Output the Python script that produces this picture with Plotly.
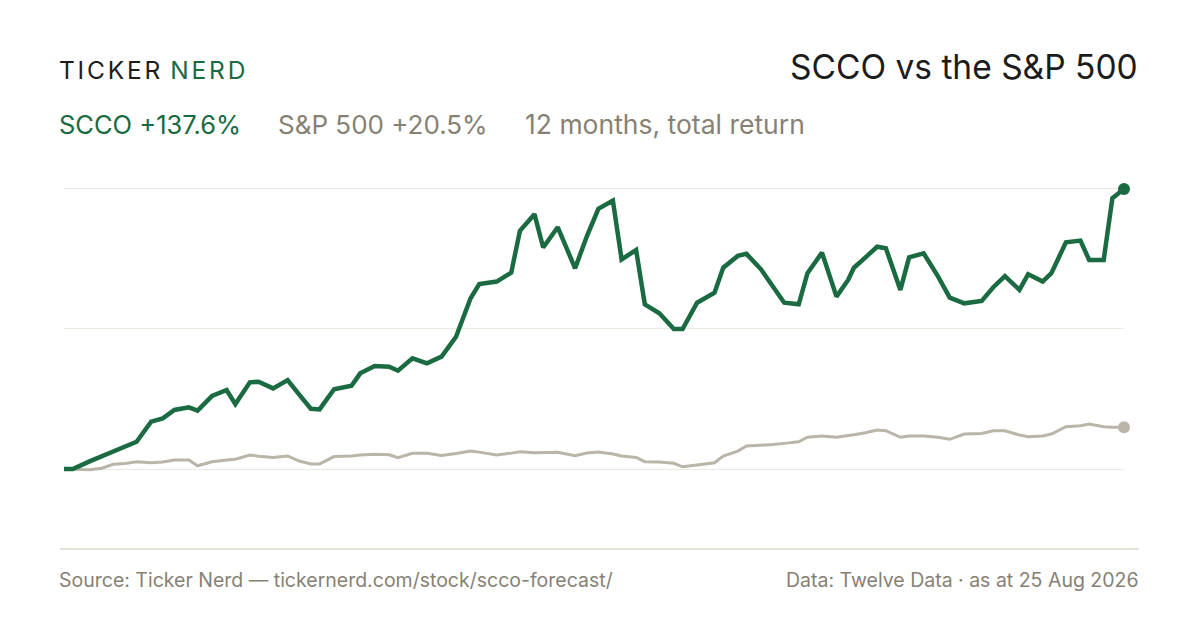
import pandas as pd
import plotly.graph_objects as go

# day offsets from the start of the 12-month window
start_date = "2025-08-25"
days = [0, 3, 9, 13, 17, 21, 25, 30, 34, 38, 43, 46, 51, 56, 59, 64, 67, 72, 77, 81,
        85, 88, 93, 99, 102, 107, 112, 115, 120, 125, 130, 135, 140, 143, 149, 154, 157,
        162, 165, 170, 176, 180, 184, 189, 192, 197, 200, 205, 210, 213, 218, 224, 227,
        232, 235, 240, 244, 248, 253, 256, 261, 266, 270, 272, 276, 280, 283, 288, 291,
        296, 301, 305, 310, 316, 320, 324, 329, 332, 337, 340, 345, 350, 353, 358, 361, 365]

# cumulative total return, %
scco = [0, 0, 3.9, 6.4, 8.8, 11.5, 13.4, 23.3, 24.9, 29.0, 30.3, 28.7, 35.9, 38.8, 31.9,
        42.6, 42.9, 39.6, 43.7, 36.5, 29.6, 29.3, 39.2, 40.9, 47.0, 50.6, 50.3, 48.3, 54.4,
        51.9, 55.2, 65.0, 83.9, 90.9, 92.1, 96.5, 117.0, 125.2, 108.8, 118.8, 98.6, 114.2,
        127.8, 131.9, 103.0, 107.6, 80.9, 76.5, 68.8, 68.8, 81.7, 86.6, 98.9, 104.7, 105.7,
        98.1, 90.0, 81.7, 80.9, 96.2, 106.3, 84.7, 92.9, 98.9, 104.0, 109.2, 108.5, 88.0,
        104.0, 106.0, 94.5, 84.2, 81.4, 82.6, 89.3, 94.8, 88.0, 95.7, 92.1, 96.2, 111.4,
        112.2, 102.7, 102.7, 133.0, 137.6]
spx = [0, -0.2, -0.4, 0.4, 2.3, 2.7, 3.6, 3.1, 3.4, 4.4, 4.4, 1.6, 3.6, 4.4, 4.8, 6.9,
       6.3, 5.7, 6.4, 3.9, 2.5, 2.5, 6.1, 6.4, 6.9, 7.2, 7.0, 5.6, 7.7, 7.7, 6.7, 7.6, 8.8,
       8.3, 6.9, 7.8, 8.5, 8.0, 8.1, 8.2, 6.5, 7.9, 8.4, 7.4, 6.4, 5.7, 3.6, 3.4, 2.8, 1.1,
       2.0, 3.1, 6.4, 8.8, 11.3, 11.5, 12.0, 12.6, 13.4, 15.6, 16.2, 15.6, 16.3, 16.8, 17.8,
       19.2, 18.8, 15.6, 16.2, 16.2, 15.6, 14.6, 17.2, 17.5, 18.8, 18.8, 16.7, 15.9, 16.2,
       17.2, 20.8, 21.3, 22.1, 20.8, 20.5, 20.5]

dates = pd.Timestamp(start_date) + pd.to_timedelta(days, unit="D")

GREEN = "#1a6a42"
GREY_LINE = "#bbb4a9"
GREY_TEXT = "#878174"
FONT = "Inter"

fig = go.Figure()

fig.add_trace(go.Scatter(x=dates, y=spx, mode="lines",
                         line=dict(color=GREY_LINE, width=3), hoverinfo="skip"))
fig.add_trace(go.Scatter(x=[dates[-1]], y=[spx[-1]], mode="markers",
                         marker=dict(color=GREY_LINE, size=12), hoverinfo="skip"))
fig.add_trace(go.Scatter(x=dates, y=scco, mode="lines",
                         line=dict(color=GREEN, width=4.5), hoverinfo="skip"))
fig.add_trace(go.Scatter(x=[dates[-1]], y=[scco[-1]], mode="markers",
                         marker=dict(color=GREEN, size=12), hoverinfo="skip"))

W, H = 1200, 630
L, R, T, B = 64, 76, 170, 82
pw, ph = W - L - R, H - T - B

# brand, title, subtitle, footer (positions in page pixels; annotations pad ~3px)
annotations = [
    dict(text='<span style="letter-spacing:2.8px">TICKER\u2009</span>'
              '<span style="letter-spacing:2.8px;color:%s">NERD</span>' % GREEN,
         x=57, y=70, xanchor="left", size=24.5, color="#1c1c1c"),
    dict(text="SCCO vs the S&P 500", x=1140, y=67, xanchor="right", size=33.5, color="#1c1c1c"),
    dict(text="SCCO +137.6%", x=57, y=124, xanchor="left", size=25.5, color=GREEN),
    dict(text="S&P 500 +20.5%", x=276, y=124, xanchor="left", size=26, color=GREY_TEXT),
    dict(text="12 months, total return", x=523, y=124, xanchor="left", size=26.5, color=GREY_TEXT),
    dict(text="Source: Ticker Nerd — tickernerd.com/stock/scco-forecast/", x=57, y=580,
         xanchor="left", size=19.5, color=GREY_TEXT),
    dict(text="Data: Twelve Data · as at 25 Aug 2026", x=1141, y=580,
         xanchor="right", size=19.5, color=GREY_TEXT),
]
for a in annotations:
    fig.add_annotation(
        text=a["text"], showarrow=False,
        xref="paper", yref="paper",
        x=(a["x"] - L) / pw, y=1 - (a["y"] - T) / ph,
        xanchor=a["xanchor"], yanchor="middle",
        font=dict(family=FONT, size=a["size"], color=a["color"]),
    )

# bottom rule
fig.add_shape(type="line", xref="paper", yref="paper",
              x0=(60 - L) / pw, x1=(1139 - L) / pw,
              y0=1 - (549 - T) / ph, y1=1 - (549 - T) / ph,
              line=dict(color="#ddd8ce", width=1.5))

fig.update_layout(
    width=W, height=H,
    margin=dict(l=L, r=R, t=T, b=B),
    paper_bgcolor="white", plot_bgcolor="white",
    showlegend=False,
    xaxis=dict(range=[dates[0], dates[-1]], showgrid=False, zeroline=False,
               showticklabels=False, showline=False, ticks=""),
    yaxis=dict(range=[-38.8, 146.9], tickvals=[0, 68.8, 137.6], showticklabels=False,
               showgrid=True, gridcolor="#ece9e3", gridwidth=1.2, zeroline=False,
               showline=False, ticks=""),
)
fig.update_traces(cliponaxis=False)

fig.write_html("out.html", config={"displayModeBar": False},
               post_script="document.body.style.margin='0';")
